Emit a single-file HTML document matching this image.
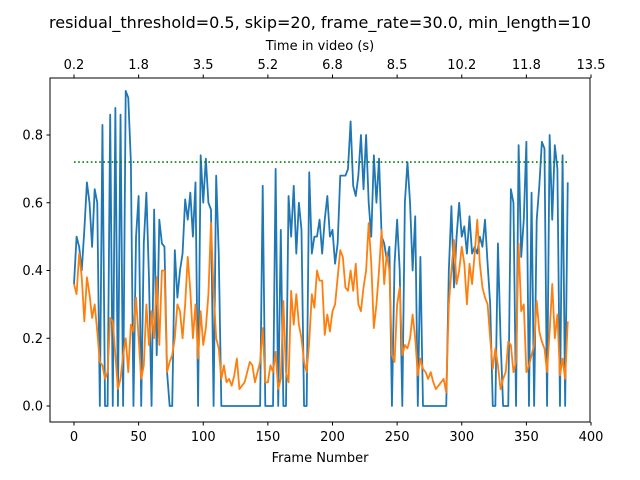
<!DOCTYPE html>
<html><head><meta charset="utf-8"><style>
body{margin:0;background:#fff}
svg{display:block;font-family:"DejaVu Sans","Liberation Sans",sans-serif}
</style></head><body>
<svg id="chart" width="640" height="480" viewBox="0 0 640 480">
<rect width="640" height="480" fill="#fff"/>
<text x="320" y="28" font-size="16" text-anchor="middle">residual_threshold=0.5, skip=20, frame_rate=30.0, min_length=10</text>
<text x="320" y="50" font-size="13" text-anchor="middle">Time in video (s)</text>
<text x="320" y="462" font-size="13" text-anchor="middle">Frame Number</text>
<g id="grid"></g>
<g id="series"></g>
<rect x="50" y="78" width="540" height="344" fill="none" stroke="#000" stroke-width="1"/>
</svg>
<script>
const frameStart = 0;
const frameStep = 2;
const blueValues = [.36,.50,.47,.40,.52,.66,.60,.47,.64,.60,
0,.83,0,0,.86,0,.88,0,.86,0,
.93,.91,.72,0,.50,.62,0,.48,.63,.38,
0,.58,.15,.55,.48,.47,.1,0,0,.46,
.32,.4,.45,.61,.55,.63,.5,.66,0,.74,
.6,.73,.6,.58,0,.68,.45,0,0,0,0,0,0,0,0,0,0,0,0,0,0,0,0,
.65,0,0,0,0,.70,0,.52,0,0,
.62,.5,.65,.45,.6,.52,0,0,.69,.45,
.5,.5,.55,.45,.55,.62,.5,.52,.42,.48,
.68,.68,.68,.7,.84,.65,.62,.68,.8,.64,
.8,.6,.5,.74,.6,.73,.5,.48,.43,.47,
0,.42,.55,.4,0,.6,.72,.6,.4,.56,
0,.44,0,0,0,0,0,0,0,0,0,0,
.4,.59,.35,.5,.6,.5,.53,.45,.56,.45,
.47,.45,.5,.47,.55,.42,.3,0,0,.48,
.2,0,0,0,.64,.6,0,.77,.44,.55,
.78,0,.63,0,.55,.65,.78,.76,0,.80,
.55,.77,.7,0,.74,0,.66];
const orangeValues = [.36,.33,.45,.38,.25,.38,.33,.26,.3,.22,
.13,.12,.08,.1,.26,.25,.15,.05,.08,.15,
.2,.1,.24,.22,.32,.2,.08,.12,.3,.18,
.28,.2,.38,.18,.4,.4,.1,.13,.15,.2,
.3,.28,.2,.3,.44,.34,.2,.3,.14,.28,
.18,.23,.33,.54,.34,.2,.17,.08,.12,.07,
.08,.06,.09,.14,.05,.06,.07,.1,.13,.12,
.07,.1,.13,.23,.07,.07,.12,.1,.16,.05,
.08,.31,.1,.07,.34,.24,.33,.24,.2,.13,
.1,.19,.33,.29,.4,.37,.37,.21,.27,.22,
.28,.3,.38,.46,.44,.35,.34,.4,.34,.42,
.3,.28,.35,.4,.54,.42,.23,.3,.4,.52,
.36,.45,.4,.15,.13,.3,.35,.15,.18,.17,
.2,.27,.2,.09,.14,.11,.1,.08,.1,.07,
.05,.06,.07,.08,.04,.3,.4,.49,.36,.4,
.47,.42,.3,.42,.36,.45,.55,.42,.35,.32,
.3,.2,.11,.17,.12,.05,.08,.1,.19,.18,
.1,.13,.48,.28,.3,.1,.12,.15,.18,.31,
.22,.19,.17,.1,.22,.36,.2,.27,.09,.14,
.08,.25];
const thresholdValue = 0.72;
const xTicks = [0,50,100,150,200,250,300,350,400];
const topTickLabels = ["0.2","1.8","3.5","5.2","6.8","8.5","10.2","11.8","13.5"];
const yTicks = [0.0,0.2,0.4,0.6,0.8];

const NS = "http://www.w3.org/2000/svg";
const xPx = f => 74 + f * (591 - 74) / 400;
const yPx = v => 406 - v * 338.75;
const svg = document.getElementById('chart');
const grid = document.getElementById('grid');
const series = document.getElementById('series');
function mk(tag, attrs, parent){const e=document.createElementNS(NS,tag);for(const k in attrs)e.setAttribute(k,attrs[k]);parent.appendChild(e);return e;}

xTicks.forEach((t,i)=>{
  const x = xPx(t);
  const tb = mk('line',{x1:x,x2:x,y1:422,y2:425.5,stroke:'#000'},grid);
  
  
  const lb = mk('text',{x:x,y:441,'font-size':13,'text-anchor':'middle'},grid);
  lb.textContent = String(t);
  
  
  const tt = mk('line',{x1:x,x2:x,y1:78,y2:74.5,stroke:'#000'},grid);
  
  
  const lt = mk('text',{x:x,y:69,'font-size':13,'text-anchor':'middle'},grid);
  lt.textContent = topTickLabels[i];
  
  
});
yTicks.forEach(t=>{
  const y = yPx(t);
  const tk = mk('line',{x1:46.5,x2:50,y1:y,y2:y,stroke:'#000'},grid);
  
  
  const lb = mk('text',{x:43,y:y+4.5,'font-size':13,'text-anchor':'end'},grid);
  lb.textContent = t.toFixed(1);
  
  
});
function pts(vals){return vals.map((v,i)=>xPx(frameStart+i*frameStep).toFixed(2)+','+yPx(v).toFixed(2)).join(' ');}
const blue = mk('polyline',{points:pts(blueValues),fill:'none',stroke:'#1f77b4','stroke-width':1.8,'stroke-linejoin':'round'},series);


const orange = mk('polyline',{points:pts(orangeValues),fill:'none',stroke:'#ff7f0e','stroke-width':1.8,'stroke-linejoin':'round'},series);


const lastFrame = frameStart + (blueValues.length-1)*frameStep;
const th = mk('line',{x1:xPx(frameStart),x2:xPx(lastFrame),y1:yPx(thresholdValue),y2:yPx(thresholdValue),stroke:'#008000','stroke-width':1.6,'stroke-dasharray':'1.6,2.6'},series);


</script>
</body></html>
